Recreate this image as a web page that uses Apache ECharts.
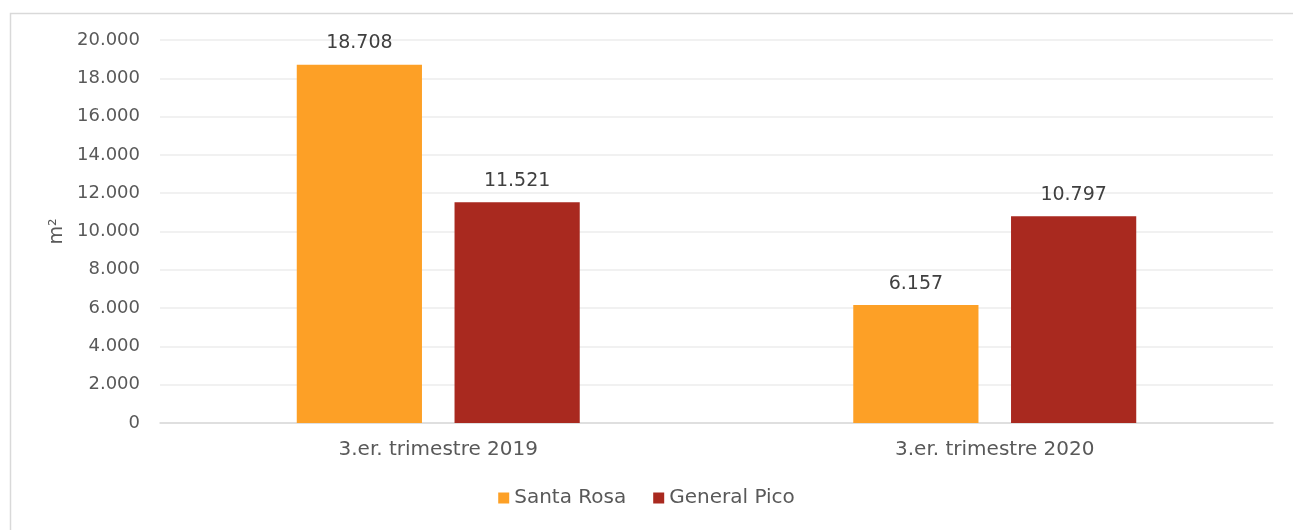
<!DOCTYPE html>
<html>
<head>
<meta charset="utf-8">
<style>
  html, body { margin: 0; padding: 0; background: #fff; }
  #chart { width: 1293px; height: 530px; }
</style>
<script src="https://cdn.jsdelivr.net/npm/echarts@6/dist/echarts.min.js"></script>
</head>
<body>
<div id="chart"></div>
<script>
const categories = ["3.er. trimestre 2019", "3.er. trimestre 2020"];
const seriesNames = ["Santa Rosa", "General Pico"];
const santaRosa = [18708, 6157];
const generalPico = [11521, 10797];
const colors = ["#FDA026", "#A9291F"];

const fmt = (v) => String(v).replace(/\B(?=(\d{3})+(?!\d))/g, ".");
const fontFamily = "'DejaVu Sans', sans-serif";

const chart = echarts.init(document.getElementById("chart"));

const barLabel = {
  show: true,
  position: "top",
  distance: 12,
  fontSize: 19,
  color: "#404040",
  fontFamily,
  formatter: (p) => fmt(p.value),
};

chart.setOption({
  animation: false,
  color: colors,
  graphic: [
    {
      type: "rect",
      left: 8,
      top: 11,
      shape: { width: 1400, height: 600 },
      style: { fill: "none", stroke: "#d9d9d9", lineWidth: 1.5 },
      silent: true,
    },
  ],
  grid: { left: 160, right: 20, top: 40, bottom: 107 },
  legend: {
    bottom: 17,
    left: "center",
    itemWidth: 11,
    itemHeight: 11,
    itemGap: 27,
    icon: "rect",
    textStyle: { fontSize: 20, color: "#595959", fontFamily },
    data: seriesNames,
  },
  xAxis: {
    type: "category",
    data: categories,
    axisLine: { lineStyle: { color: "#d9d9d9", width: 1.5 } },
    axisTick: { show: false },
    axisLabel: { fontSize: 20, color: "#595959", margin: 17, fontFamily },
  },
  yAxis: {
    type: "value",
    min: 0,
    max: 20000,
    interval: 2000,
    name: "m²",
    nameLocation: "middle",
    nameGap: 92,
    nameRotate: 90,
    nameTextStyle: { fontSize: 19, color: "#595959", fontFamily },
    axisLine: { show: false },
    axisTick: { show: false },
    splitLine: { lineStyle: { color: "#ececec", width: 1.5 } },
    axisLabel: { fontSize: 18, color: "#595959", margin: 20, fontFamily, formatter: fmt },
  },
  series: [
    {
      name: seriesNames[0],
      type: "bar",
      data: santaRosa,
      barWidth: "22.5%",
      barGap: "26%",
      label: barLabel,
    },
    {
      name: seriesNames[1],
      type: "bar",
      data: generalPico,
      barWidth: "22.5%",
      barGap: "26%",
      label: barLabel,
    },
  ],
});
</script>
</body>
</html>
